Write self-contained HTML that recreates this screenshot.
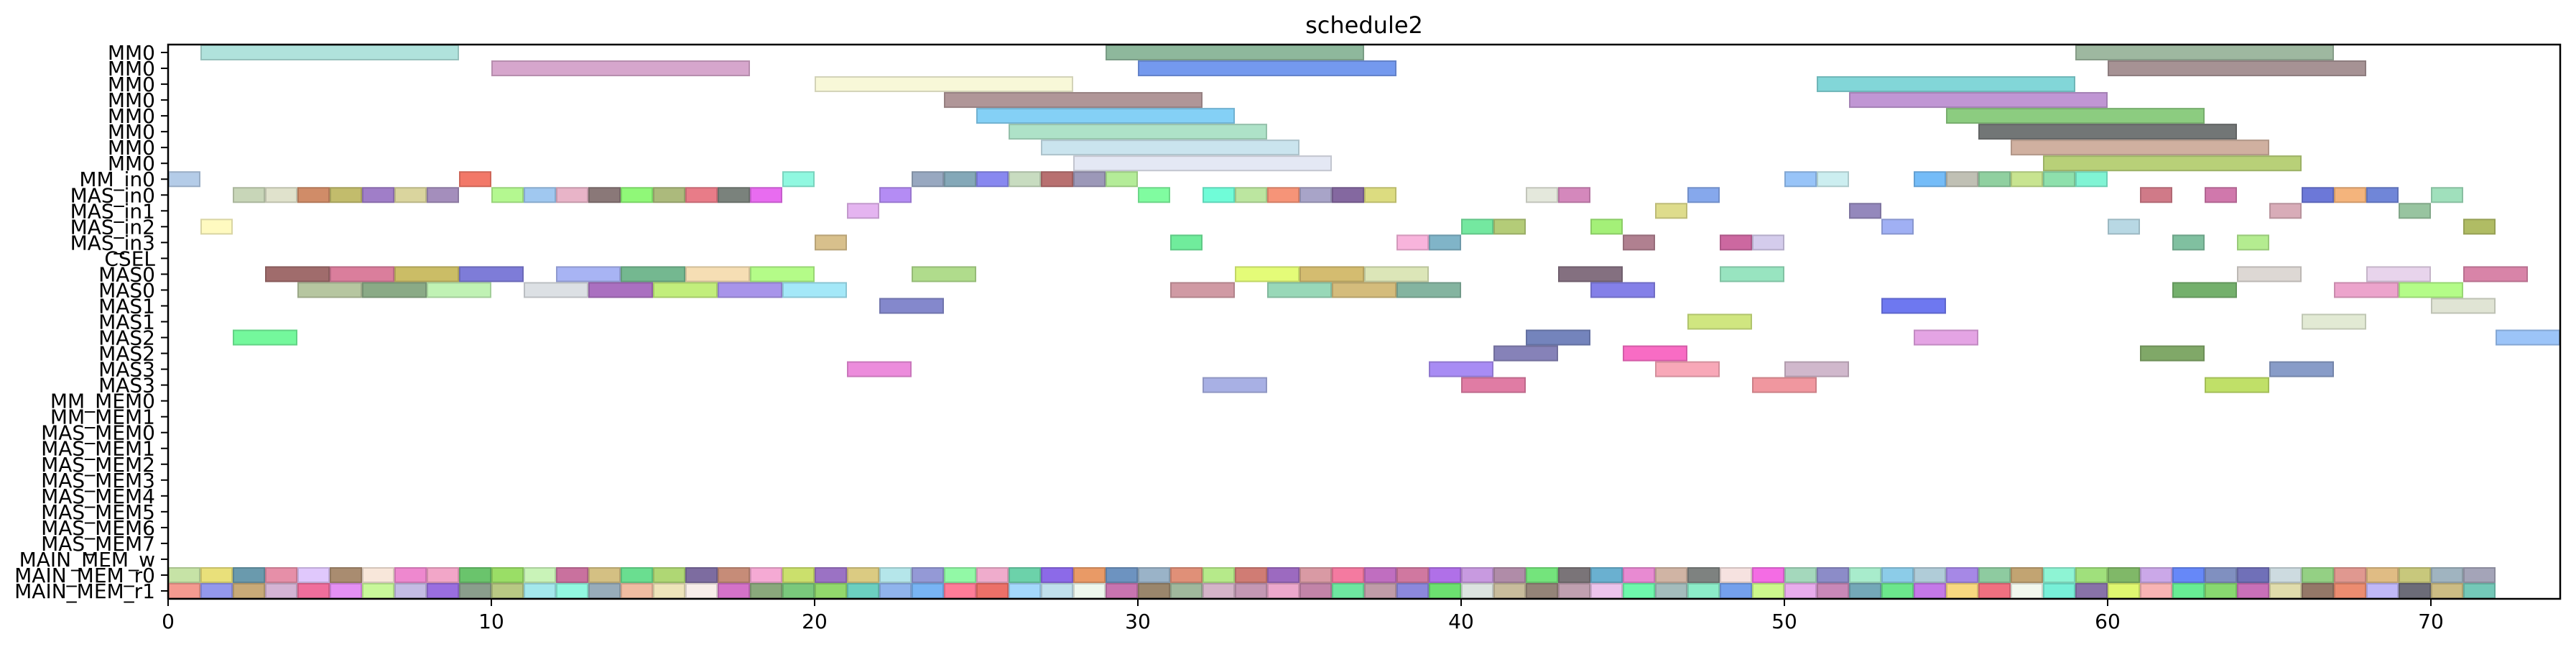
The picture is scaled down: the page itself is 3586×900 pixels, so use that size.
<!DOCTYPE html>
<html><head><meta charset="utf-8"><title>schedule2</title>
<style>html,body{margin:0;padding:0;background:#fff;}svg{display:block;}</style></head>
<body>
<svg id="chart" width="3586" height="900" viewBox="0 0 3586 900" xmlns="http://www.w3.org/2000/svg" font-family="'DejaVu Sans','Liberation Sans',sans-serif">
<rect width="3586" height="900" fill="#fff"/>
<text x="1899" y="46" font-size="32" text-anchor="middle" fill="#000">schedule2</text>
<g id="bars"></g><g id="axes"></g>
</svg>
<script>
const rowLabels = ["MM0","MM0","MM0","MM0","MM0","MM0","MM0","MM0","MM_in0","MAS_in0","MAS_in1","MAS_in2","MAS_in3","CSEL","MAS0","MAS0","MAS1","MAS1","MAS2","MAS2","MAS3","MAS3","MM_MEM0","MM_MEM1","MAS_MEM0","MAS_MEM1","MAS_MEM2","MAS_MEM3","MAS_MEM4","MAS_MEM5","MAS_MEM6","MAS_MEM7","MAIN_MEM_w","MAIN_MEM_r0","MAIN_MEM_r1"];
const rowDurations = [8,8,8,8,8,8,8,8,1,1,1,1,1,1,2,2,2,2,2,2,2,2,1,1,1,1,1,1,1,1,1,1,1,1,1];
const xTicks = [0,10,20,30,40,50,60,70];
const allSlots = Array.from({length:72},(_,i)=>i);
const rowStarts = [
 [1,29,59],[10,30,60],[20,51],[24,52],[25,55],[26,56],[27,57],[28,58],
 [0,9,19,23,24,25,26,27,28,29,50,51,54,55,56,57,58,59],
 [2,3,4,5,6,7,8,10,11,12,13,14,15,16,17,18,22,30,32,33,34,35,36,37,42,43,47,61,63,66,67,68,70],
 [21,46,52,65,69],
 [1,40,41,44,53,60,71],
 [20,31,38,39,45,48,49,62,64],
 [],
 [3,5,7,9,12,14,16,18,23,33,35,37,43,48,64,68,71],
 [4,6,8,11,13,15,17,19,31,34,36,38,44,62,67,69],
 [22,53,70],[47,66],[2,42,54,72],[41,45,61],[21,39,46,50,65],[32,40,49,63],
 [],[],[],[],[],[],[],[],[],[],[],
 allSlots, allSlots
];
const rowColors = [
 ["#b0e2dc","#8eb89c","#9eb8a0"],["#d6a6cc","#7499ee","#a69294"],["#f8f8d8","#82d6d8"],["#b09698","#c096d4"],
 ["#84d0f6","#8ccc80"],["#aee2c8","#727676"],["#cae4ee","#d0b0a0"],["#e4e8f4","#b8d078"],
 ["#b4cce8","#f27868","#90f8e0","#98a8c0","#84a8b8","#8888f0","#c8dcc0","#b87070","#9c98b8","#b4ec98","#98c4f8","#cceef0","#74bcf8","#c0c0b4","#90d0a0","#c8e490","#8ee0ac","#80f4d4"],
 ["#c8d6b8","#e0e2cc","#d08c68","#c2bc6c","#a07ec8","#dad59e","#a48ebc","#b4f890","#a0c8f0","#e8b4c8","#8a7878","#90f878","#acba7c","#e87c88","#7a827c","#e86cf0","#b48cf4","#80fca0","#70fcd8","#bce6a0","#f69478","#a8a4c8","#8468a0","#dcdc80","#e4e8dc","#d488bc","#86a8ec","#d07a88","#d078ac","#6c78d8","#f4b47c","#7086d8","#a0e0bc"],
 ["#e4b4f0","#dedc8c","#9488bc","#d8acb8","#98c4a0"],
 ["#fffac0","#74e8a0","#b4cc78","#a4f078","#a0b0f4","#b8d8e4","#b0bc64"],
 ["#d8c08c","#70ec9c","#f8b4dc","#80b4c8","#b08090","#cc68a0","#d4ccec","#80c0a0","#b4ec90"],
 [],
 ["#a06c6c","#da7e9c","#cbbd66","#7e7cd8","#a8b4f4","#74b890","#f6deb4","#b4fc88","#b0dc8c","#e4fc78","#d4bc70","#dce6b8","#847080","#98e4c0","#ddd8d4","#e8d4ec","#d884a8"],
 ["#b6c6a0","#8aaa86","#c0f2b4","#dce0e4","#aa70c0","#c2ee7c","#a894ea","#a4e8f8","#d09aa4","#98d8b8","#d4bc7c","#84b4a0","#8480e8","#74b06c","#eca4cc","#b4fc88"],
 ["#8488cc","#6e78f0","#e0e4d4"],["#d0e680","#e2ead4"],["#74f89c","#7484bc","#e4a4e4","#9cc4f8"],["#8682b8","#f86cc4","#80a868"],
 ["#ec8cdc","#a88cf4","#f8a8b8","#d0b8cc","#889cc8"],["#a8b0e4","#e07ca4","#f0979f","#c0e068"],
 [],[],[],[],[],[],[],[],[],[],[],
 ["#c6e3a6","#e9e07a","#6a9aad","#e68fa8","#e0c8fc","#a98c70","#f8e7da","#ee88cf","#f2a6c8","#6ac46c","#9ade66","#c9f3b8","#c9719e","#d4c083","#6ade90","#afd774","#7d6ca0","#c68c78","#f5aad4","#cbe06c","#9b72c4","#dbcb82","#b5e6ea","#9499d6","#92f9a6","#efaccc","#6cd2aa","#8c6ae8","#e99a66","#6d93c0","#9ab3c8","#e09078","#b6ea8a","#d07c74","#9c6ac0","#d99aa4","#f47aa0","#c06ec0","#d078a0","#b070e8","#c89ae0","#b08ca8","#74e47c","#7a7478","#6ab0d0","#e88ad2","#d0b4a4","#7e8280","#f6e2e0","#f46ce4","#a4d8bc","#8c8cc8","#a8eccc","#8ccce8","#b0ccd8","#a688e6","#8ecba0","#c2a472","#8ef4d4","#a0e07c","#80b868","#cba8e8","#6688f8","#8090c0","#7070b8","#cddbe0","#94d084","#e09890","#e0bc84","#c8c87c","#a0b4c0","#a4a4b8"],
 ["#f49a90","#9498ec","#c8aa78","#d4b4d4","#f06e9c","#e490f4","#c8f89a","#c4bce4","#9a6ee0","#8a9e8c","#b8c884","#a4e8ec","#92f8e0","#98acba","#f0bca2","#eee4ba","#f8eeea","#d472c8","#8aa87c","#7ac87c","#92d86c","#6ccfc0","#90b4ec","#78b4f4","#ff7c98","#ec7068","#a4d8fc","#c0e0ec","#eef8ee","#c874b0","#9a866c","#a0b89c","#d4b4c8","#c498b4","#eca8cc","#c284a8","#6ee6a0","#c09ca8","#8c88dc","#6ce070","#dce4e0","#c8bc9c","#948478","#c0a0b0","#ecc4ec","#6ef8ac","#a4bcbc","#8cecc8","#74a0ec","#ccf88c","#e8acec","#c888b8","#74a8b8","#6ce68c","#c478e8","#f8d880","#f07080","#f2f8ee","#78f0d8","#8872a8","#e0f870","#f8b4b4","#68ec94","#88d870","#c870b8","#e0dcac","#947868","#ec8c70","#c0b8f8","#6c6c78","#ccbc84","#74c8b8"]
];

const NS = "http://www.w3.org/2000/svg";
const X0 = 234, X1 = 3564, Y0 = 62, Y1 = 833, XMAX = 74;
const rowH = (Y1 - Y0) / rowLabels.length;
function xScale(t){ return X0 + (X1 - X0) * t / XMAX; }
function yTop(i){ return Y0 + rowH * i; }
function yCenter(i){ return Y0 + rowH * (i + 0.5); }
function darken(hex, f){
  const n = parseInt(hex.slice(1),16);
  const r = Math.round(((n>>16)&255)*f), g = Math.round(((n>>8)&255)*f), b = Math.round((n&255)*f);
  return "rgb("+r+","+g+","+b+")";
}
const barsG = document.getElementById('bars');
rowStarts.forEach((starts, i) => {
  starts.forEach((s, j) => {
    const r = document.createElementNS(NS,'rect');
    
    
    const x = xScale(s), w = xScale(s + rowDurations[i]) - x;
    r.setAttribute('x', x + 1); r.setAttribute('y', yTop(i) + 1);
    r.setAttribute('width', Math.max(w - 2, 0)); r.setAttribute('height', rowH - 2);
    const c = rowColors[i][j] || "#cccccc";
    r.setAttribute('fill', c);
    r.setAttribute('stroke', darken(c, 0.85));
    r.setAttribute('stroke-width', '2');
    barsG.appendChild(r);
  });
});
const axG = document.getElementById('axes');
function line(x1,y1,x2,y2,w,name){
  const l = document.createElementNS(NS,'line');
  
  
  l.setAttribute('x1',x1); l.setAttribute('y1',y1); l.setAttribute('x2',x2); l.setAttribute('y2',y2);
  l.setAttribute('stroke','#000'); l.setAttribute('stroke-width',w);
  axG.appendChild(l);
}
function text(x,y,s,anchor,name){
  const t = document.createElementNS(NS,'text');
  
  
  t.setAttribute('x',x); t.setAttribute('y',y); t.setAttribute('font-size','28');
  t.setAttribute('text-anchor',anchor); t.setAttribute('fill','#000');
  t.textContent = s; axG.appendChild(t);
}
rowLabels.forEach((lab, i) => {
  const y = yCenter(i);
  line(X0-10, y, X0, y, 2, 'y-tick');
  text(216, y + 10, lab, 'end', 'y-tick-label');
});
xTicks.forEach(v => {
  const x = xScale(v);
  line(x, Y1, x, Y1+10, 2, 'x-tick');
  text(x, 874, String(v), 'middle', 'x-tick-label');
});
const frame = document.createElementNS(NS,'rect');


frame.setAttribute('x', X0); frame.setAttribute('y', Y0);
frame.setAttribute('width', X1 - X0); frame.setAttribute('height', Y1 - Y0);
frame.setAttribute('fill','none'); frame.setAttribute('stroke','#000'); frame.setAttribute('stroke-width','2.5');
axG.appendChild(frame);
</script>
</body></html>
